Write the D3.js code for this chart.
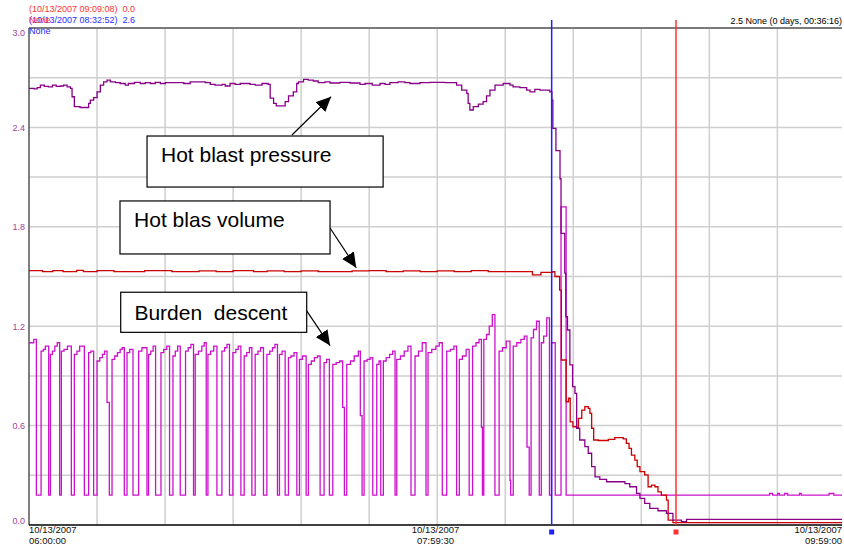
<!DOCTYPE html>
<html><head><meta charset="utf-8">
<script src="https://cdn.jsdelivr.net/npm/d3@7/dist/d3.min.js"></script>
<style>
body{margin:0;background:#fff;}
svg{display:block;font-family:Arial,"Liberation Sans",sans-serif;}
text{white-space:pre;}
</style>
</head><body>
<svg id="chart" width="844" height="546"></svg>
<script>
// ---------------- data ----------------
const startTime = new Date(2007, 9, 13, 6, 0, 0);
const endTime = new Date(2007, 9, 13, 9, 59, 0);
const yTickValues = [0, 0.6, 1.2, 1.8, 2.4, 3.0];
const yGridValues = [0.3, 0.6, 0.9, 1.2, 1.5, 1.8, 2.1, 2.4, 2.7];
const xGridMinutes = [20, 40, 60, 80, 100, 120, 140, 160, 180, 200, 220];
const xTickMinutes = [0, 119.5, 239];
const xTickDates = ["10/13/2007", "10/13/2007", "10/13/2007"];
const xTickTimes = ["06:00:00", "07:59:30", "09:59:00"];

// minutes after 06:00, value
const pressure = [
[0,2.636],[1.5,2.632],[2.4,2.64],[3.35,2.655],[4.5,2.648],[5.7,2.645],[6.9,2.655],[8.0,2.648],[9.2,2.65],[10.2,2.655],[11.2,2.645],[12.2,2.635],[12.66,2.585],[13.33,2.525],
[15.0,2.52],[17.53,2.545],[18.03,2.565],[19.0,2.58],[20.0,2.615],[20.97,2.655],[21.94,2.675],[22.94,2.685],[23.9,2.675],[25.4,2.67],
[26.8,2.665],[28.3,2.655],[29.2,2.665],[31.0,2.672],[32.7,2.665],[34.2,2.67],[35.65,2.665],[37.1,2.672],[38.6,2.665],[40.1,2.67],[43,2.67],
[45.5,2.665],[47.4,2.675],[51.8,2.67],[53.3,2.66],[54.7,2.655],[56.8,2.66],[57.7,2.65],[59.1,2.665],[60.6,2.66],[62.1,2.665],
[65,2.66],[66.5,2.655],[68.5,2.665],[70.3,2.66],[70.9,2.577],[71.9,2.545],[72.7,2.53],[75.3,2.555],[76.3,2.59],
[77.7,2.615],[78.7,2.665],[79.2,2.675],[80.7,2.69],[82.1,2.685],[83.6,2.68],[85,2.67],[87,2.675],[88.5,2.668],
[91.4,2.672],[94.4,2.668],[97.3,2.66],[98.8,2.665],[100.9,2.655],[103.2,2.665],[104.7,2.66],[106.1,2.67],[108.5,2.675],
[110.5,2.67],[112,2.665],[114.9,2.67],[117.9,2.672],[122.3,2.67],[125.7,2.655],[127.2,2.625],[128.7,2.605],[129.1,2.545],
[129.6,2.505],[130.6,2.525],[132.1,2.54],[133.5,2.555],[134.5,2.59],[135.5,2.625],[137,2.655],[139.4,2.665],[141.4,2.655],
[142.3,2.645],[144.3,2.64],[146.3,2.625],[147.3,2.615],[148.7,2.63],[150.2,2.625],[152.2,2.625],[153.1,2.615],[153.7,2.565],
[154.0,2.394],[154.9,2.26],[156.1,2.09],[156.4,1.76],[157.5,1.52],[157.8,1.257],[158.3,1.177],[159,0.966],[159.8,0.835],
[160.5,0.795],[161,0.584],[161.9,0.513],[163.4,0.473],[164.4,0.433],[165.4,0.352],[166.4,0.29],[167.8,0.276],[169.8,0.261],
[175.2,0.25],[176.6,0.231],[178.6,0.191],[179.6,0.161],[181,0.131],[182.5,0.10],[184.9,0.086],[187.4,0.07],[189.3,0.03],
[191.8,0.02],[193.3,0.034],[239,0.034]
];

const volume = [
[0,1.535],[4,1.53],[7,1.535],[10,1.53],[14,1.537],[16,1.53],[20,1.535],[25,1.53],[30,1.53],[34,1.535],[38,1.535],[42,1.53],
[45,1.53],[50,1.534],[55,1.53],[60,1.535],[66,1.53],[70,1.534],[75,1.53],[80,1.534],[85,1.53],[90,1.53],[95,1.534],
[100,1.535],[105,1.53],[110,1.534],[115,1.53],[120,1.534],[125,1.53],[130,1.535],[135,1.53],[140,1.53],[148,1.51],
[150.5,1.525],[154,1.53],[154.6,1.50],[156,1.418],[156.5,0.996],[157.9,0.744],
[158.6,0.765],[159.1,0.623],[159.9,0.593],[161,0.584],[161.5,0.644],[162.5,0.694],[163.4,0.714],[164.4,0.704],
[164.9,0.674],[165.4,0.584],[166,0.513],[167.3,0.51],[170.3,0.517],[172.2,0.527],[174.7,0.52],[175.6,0.493],[176.4,0.463],
[177.1,0.422],[178.1,0.392],[178.8,0.352],[179.6,0.322],[181,0.302],[182,0.231],[183,0.241],[184,0.231],[184.9,0.2],
[185.9,0.18],[187.4,0.15],[187.9,0.03],[189.3,0.014],[239,0.014]
];

const burden = [
[0,1.10],[1.4,1.12],[2.17,0.18],
[3.55,1.05],[4.2,1.06],[4.8,1.08],[5.79,0.18],
[6.28,1.03],[6.9,1.05],[7.6,1.08],[8.3,1.10],[9.02,0.18],
[9.52,1.05],[10.3,1.06],[11.3,1.08],[12.45,0.18],
[13.33,1.03],[14.1,1.05],[14.9,1.08],[16.27,0.18],
[17.53,1.04],[18.2,1.05],[19.0,0.18],
[20.0,0.99],[20.8,1.01],[21.6,1.03],[22.2,1.05],[22.94,0.74],[23.61,0.18],
[24.41,1.0],[25.2,1.02],[26.0,1.04],[26.8,1.06],[27.4,1.07],[28.02,0.18],
[28.81,1.04],[29.6,1.06],[30.57,0.18],
[32.22,1.05],[33.2,1.07],[34.68,0.18],
[35.15,1.03],[35.8,1.05],[36.5,1.08],[37.21,0.18],
[38.8,1.04],[39.6,1.06],[40.5,1.08],[41.32,0.18],
[42.32,1.02],[43.0,1.05],[43.7,1.08],[44.46,0.18],
[46.02,1.05],[46.8,1.07],[47.6,1.09],[48.37,0.18],
[48.87,1.03],[49.8,1.05],[50.8,1.08],[51.5,1.10],[52.1,0.18],
[52.6,1.03],[53.4,1.05],[54.3,1.08],[55.24,0.18],
[56.71,1.05],[57.5,1.07],[58.2,1.09],[58.94,0.18],
[59.94,1.04],[60.8,1.06],[61.5,1.08],[62.29,0.18],
[63.26,1.02],[64.0,1.04],[64.8,1.07],[65.52,0.18],
[66.49,1.03],[67.3,1.05],[68.1,1.07],[68.93,0.18],
[69.93,1.03],[70.8,1.05],[71.6,1.07],[72.3,1.09],[73.04,0.18],
[73.63,1.03],[74.4,1.05],[75.3,0.18],
[76.27,1.01],[77.0,1.02],[77.9,1.04],[78.74,0.18],
[79.5,1.0],[80.4,1.02],[81.47,0.18],
[82.14,0.97],[83.0,0.99],[83.9,1.01],[84.8,1.02],[85.58,0.18],
[86.75,0.98],[87.5,1.0],[88.31,0.18],
[89.31,0.97],[90.3,0.98],[91.3,0.99],[92.2,0.71],[92.72,0.18],
[93.42,0.97],[94.5,0.99],[95.6,1.02],[96.8,1.05],[97.4,0.66],[97.92,0.18],
[98.5,0.99],[99.4,1.0],[100.3,1.01],[101.06,0.18],
[102.23,0.97],[102.9,0.99],[103.41,0.18],
[104.17,0.99],[105,1.01],[106,1.03],[106.9,1.05],[107.61,0.18],
[108.11,1.0],[109.2,1.02],[110.3,1.05],[111.4,1.08],[112.3,0.18],
[113.48,1.02],[114.5,1.05],[115.6,1.1],[116.71,0.18],
[117.3,1.04],[118.4,1.06],[119.6,1.08],[120.6,1.1],[121.5,0.18],
[122.8,1.05],[123.9,1.06],[124.9,1.08],[125.7,0.18],
[126.5,1.0],[127.4,1.02],[128.5,1.06],[129.4,0.18],
[130.4,1.08],[131.4,1.10],[132.3,1.12],[133.0,0.59],[133.3,0.18],
[133.7,1.12],[134.5,1.15],[135.3,1.2],[136.2,1.27],[136.97,0.18],
[138.2,1.05],[139.2,1.07],[140.3,1.11],[141.4,0.27],[141.6,0.18],
[142.35,1.08],[143.4,1.10],[144.6,1.12],[145.6,1.14],[146.4,0.47],[147.05,0.18],
[147.6,1.13],[148.3,1.18],[149.2,1.23],[150,0.18],
[150.6,1.10],[151.3,1.14],[152.2,1.25],[153.0,0.18],
[153.6,1.10],[154.7,0.18],[156.4,1.92],[157.9,0.18],
[217.7,0.19],[218.6,0.18],[220.1,0.19],[220.6,0.18],[222.1,0.19],[223.0,0.18],[226.5,0.19],[227.0,0.18],[235.2,0.19],[236.6,0.18],[239,0.18]
];

const cursorMinutes = [153.65, 190.2];
const cursorColors = ["#1f1fff", "#ff3333"];
const legendLines = [
  {text: "(10/13/2007 09:09:08)  0.0", color: "#ff3333"},
  {text: "(10/13/2007 08:32:52)  2.6", color: "#2a2aff"},
];
const legendNone = [{text:"None", color:"#ff3333", row:1}, {text:"None", color:"#2a2aff", row:2}];
const deltaLabel = "2.5 None (0 days, 00:36:16)";

// annotation boxes: minutes & values
const annotations = [
  {label:"Hot blast pressure", x0:34.7, x1:104.1, y0:2.348, y1:2.040, tx:38.8, ty:2.191, a0:[77.3,2.354], a1:[88.8,2.585]},
  {label:"Hot blas volume", x0:26.75, x1:88.5, y0:1.956, y1:1.636, tx:30.9, ty:1.797, a0:[88.5,1.793], a1:[96.2,1.553]},
  {label:"Burden  descent", x0:26.96, x1:81.64, y0:1.405, y1:1.163, tx:31.0, ty:1.237, a0:[80.8,1.318], a1:[88.5,1.083]},
];

// ---------------- chart ----------------
const svg = d3.select("#chart");
const M = {left:29, right:842, top:28, bottom:525};
const toDate = m => new Date(startTime.getTime() + m * 60000);
const x = d3.scaleTime().domain([startTime, endTime]).range([M.left, M.right]);
const y = d3.scaleLinear().domain([0, 3]).range([M.bottom, M.top]);

// grid
svg.append("g").selectAll("line").data(yGridValues).join("line")
  .attr("x1", M.left).attr("x2", M.right)
  .attr("y1", d => y(d)).attr("y2", d => y(d))
  .attr("stroke", "#cfcfcf").attr("stroke-width", 1.5);
svg.append("g").selectAll("line").data(xGridMinutes).join("line")
  .attr("x1", d => x(toDate(d))).attr("x2", d => x(toDate(d)))
  .attr("y1", M.top).attr("y2", M.bottom)
  .attr("stroke", "#cfcfcf").attr("stroke-width", 1.5);

// frame
svg.append("line").attr("x1", M.left).attr("x2", M.right).attr("y1", y(3)).attr("y2", y(3))
  .attr("stroke", "#7a7a7a").attr("stroke-width", 2);
svg.append("line").attr("x1", M.left).attr("x2", M.left).attr("y1", M.top).attr("y2", M.bottom)
  .attr("stroke", "#555").attr("stroke-width", 1.5);

// y tick labels
svg.append("g").selectAll("text").data(yTickValues).join("text")
  .attr("x", 25).attr("y", d => y(d))
  .attr("dy", d => d === 0 ? -1.5 : (d === 3 ? 7.5 : 3.5))
  .attr("text-anchor", "end").attr("font-size", 9).attr("fill", "#a040a0")
  .text(d => d.toFixed(1));

// series
const line = d3.line().x(d => x(toDate(d[0]))).y(d => y(d[1])).curve(d3.curveStepAfter);
svg.append("path").datum(burden).attr("d", line).attr("fill", "none")
  .attr("stroke", "#cc11cc").attr("stroke-width", 1.3);
svg.append("path").datum(volume).attr("d", line).attr("fill", "none")
  .attr("stroke", "#cc0000").attr("stroke-width", 1.3);
svg.append("path").datum(pressure).attr("d", line).attr("fill", "none")
  .attr("stroke", "#880088").attr("stroke-width", 1.3);

// bottom axis line
svg.append("line").attr("x1", M.left).attr("x2", M.right).attr("y1", M.bottom).attr("y2", M.bottom)
  .attr("stroke", "#000").attr("stroke-width", 1.5);

// x tick labels
const xl = svg.append("g").selectAll("text").data(xTickMinutes).join("text")
  .attr("font-size", 9.5).attr("fill", "#111")
  .attr("text-anchor", (d, i) => i === 0 ? "start" : (i === 2 ? "end" : "middle"))
  .attr("x", d => x(toDate(d)));
xl.append("tspan").attr("y", 533).text((d, i) => xTickDates[i]);
xl.append("tspan").attr("y", 544).attr("x", d => x(toDate(d))).text((d, i) => xTickTimes[i]);

// annotations
const defs = svg.append("defs");
defs.append("marker").attr("id", "arr").attr("markerUnits", "userSpaceOnUse")
  .attr("markerWidth", 16).attr("markerHeight", 14).attr("refX", 15).attr("refY", 7)
  .attr("orient", "auto")
  .append("path").attr("d", "M0,0 L15,7 L0,14 Z").attr("fill", "#000");
const ag = svg.append("g").selectAll("g").data(annotations).join("g");
ag.append("line")
  .attr("x1", d => x(toDate(d.a0[0]))).attr("y1", d => y(d.a0[1]))
  .attr("x2", d => x(toDate(d.a1[0]))).attr("y2", d => y(d.a1[1]))
  .attr("stroke", "#000").attr("stroke-width", 1.2).attr("marker-end", "url(#arr)");
ag.append("rect")
  .attr("x", d => x(toDate(d.x0))).attr("y", d => y(d.y0))
  .attr("width", d => x(toDate(d.x1)) - x(toDate(d.x0)))
  .attr("height", d => y(d.y1) - y(d.y0))
  .attr("fill", "#fff").attr("stroke", "#000").attr("stroke-width", 1.2);
ag.append("text")
  .attr("x", d => x(toDate(d.tx))).attr("y", d => y(d.ty))
  .attr("font-size", 21).attr("fill", "#000").text(d => d.label);

// cursors
svg.append("g").selectAll("line").data(cursorMinutes).join("line")
  .attr("x1", d => x(toDate(d))).attr("x2", d => x(toDate(d)))
  .attr("y1", 20).attr("y2", M.bottom)
  .attr("stroke", (d, i) => cursorColors[i]).attr("stroke-width", 1.5);
svg.append("g").selectAll("rect").data(cursorMinutes).join("rect")
  .attr("x", d => x(toDate(d)) - 2.5).attr("y", 529.5).attr("width", 5).attr("height", 5)
  .attr("fill", (d, i) => cursorColors[i]);

// header texts
svg.append("g").selectAll("text").data(legendLines).join("text")
  .attr("x", 29).attr("y", (d, i) => 12 + i * 11)
  .attr("font-size", 9).attr("fill", d => d.color).text(d => d.text);
svg.append("g").selectAll("text").data(legendNone).join("text")
  .attr("x", 29).attr("y", d => 12 + d.row * 11)
  .attr("font-size", 9).attr("fill", d => d.color).text(d => d.text);
svg.append("text").attr("x", 842).attr("y", 24).attr("text-anchor", "end")
  .attr("font-size", 9).attr("fill", "#000").text(deltaLabel);
</script>
</body></html>
